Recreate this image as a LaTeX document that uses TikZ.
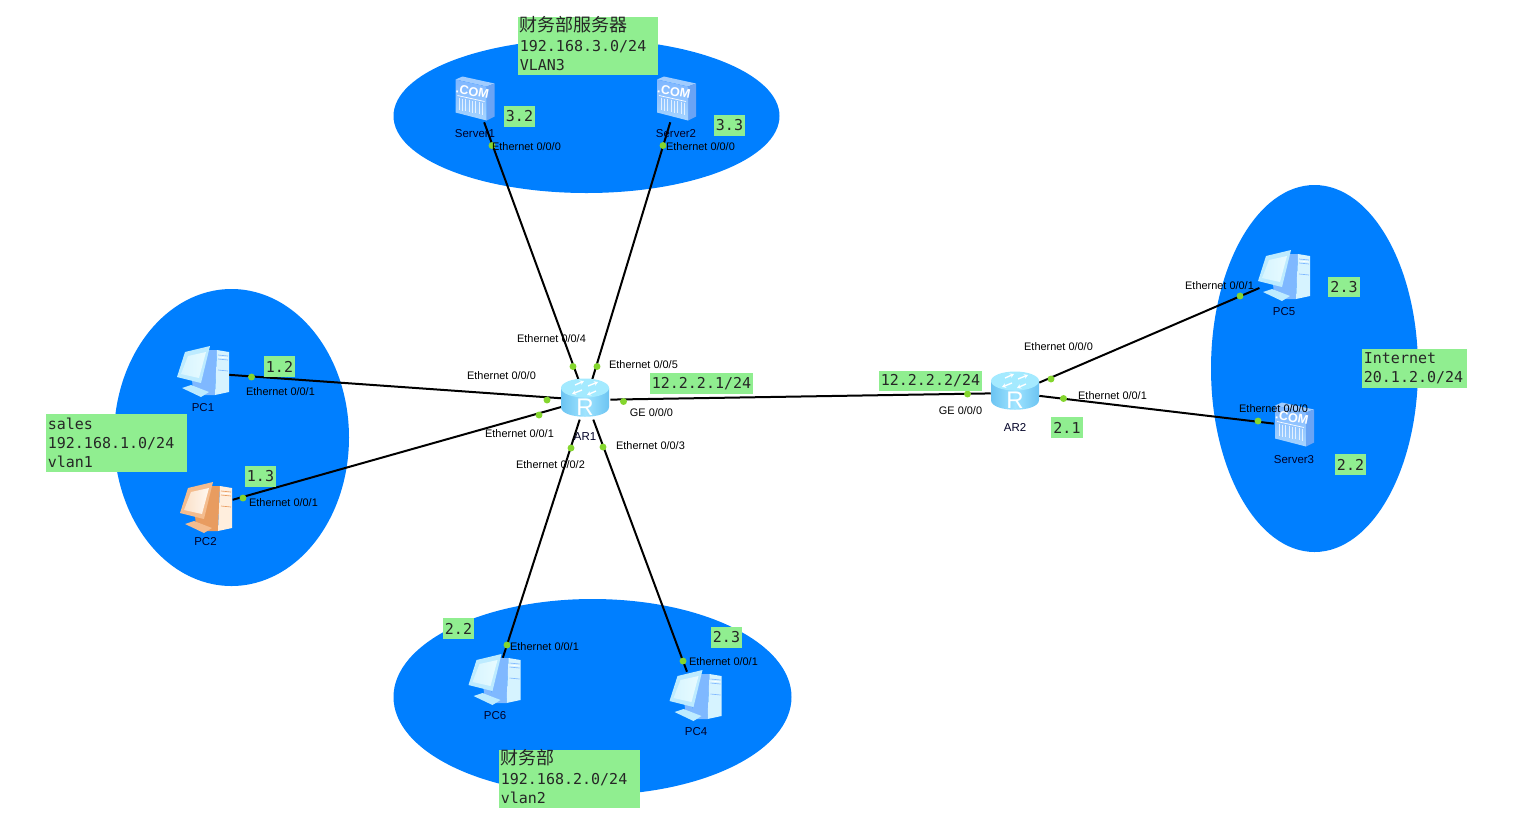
\documentclass[tikz,border=0pt]{standalone}
\usepackage{fontspec}
\setmainfont{Liberation Sans}
\newfontfamily\monofnt{DejaVu Sans Mono}
\newfontfamily\cjkfnt{Noto Sans CJK SC}
\usetikzlibrary{arrows.meta}
\definecolor{zoneblue}{HTML}{007FFF}
\definecolor{boxgreen}{HTML}{90EE90}
\definecolor{dotgreen}{HTML}{84D62E}
\definecolor{pcframe}{HTML}{BDEBFF}
\definecolor{pcside}{HTML}{7FB8FF}
\definecolor{pctower}{HTML}{D6F3FF}
\definecolor{pcscreen}{HTML}{E8FBFF}
\definecolor{orframe}{HTML}{F4BC8E}
\definecolor{orside}{HTML}{E89C60}
\definecolor{ortower}{HTML}{FFEEDD}
\definecolor{orscreen}{HTML}{FFF8F0}
\definecolor{srvfronta}{HTML}{7FB6FF}
\definecolor{srvfrontb}{HTML}{A6D4FF}
\definecolor{srvside}{HTML}{6AA4F5}
\definecolor{srvtop}{HTML}{A0CCFF}
\definecolor{rttop}{HTML}{A4EAFF}
\definecolor{rtedge}{HTML}{6CC4F2}
\definecolor{rtmid}{HTML}{A0E4FF}
\tikzset{
  zone/.style={fill=zoneblue,draw=none},
  link/.style={line width=1.5pt,black},
  iconbox/.style={draw=none,fill=none,inner sep=0pt,rectangle},
  portdot/.style={circle,fill=dotgreen,draw=none,inner sep=0pt,minimum size=5.2pt},
  portlabel/.style={font=\fontsize{8.2pt}{10pt}\selectfont,inner sep=0pt,text=black},
  devname/.style={font=\fontsize{8.6pt}{10pt}\selectfont,inner sep=0pt,text=black!85!blue},
  tag/.style={fill=boxgreen,inner sep=0pt,font=\monofnt\fontsize{11.25pt}{14.25pt}\selectfont,text=black!85},
  note/.style={tag,anchor=north west,align=left,inner xsep=1.2pt},
  pics/pcicon/.style n args={4}{code={
    % tower side
    \fill[#2] (5,-22) -- (14,-22) -- (12,23) -- (-6,23) -- (-2,8) -- cycle;
    % tower front
    \fill[#3] (14,-22) -- (26,-20) -- (26,20) -- (12,23) -- cycle;
    \draw[#2,line width=.5pt] (15,-17) -- (25,-16) (15,-13) -- (25,-12) (15,-2) -- (25,-1);
    \draw[white,line width=.5pt] (15,-15) -- (25,-14);
    % stand
    \fill[#2] (-11,8) -- (-3,8) -- (-3,19) -- (-10,18) -- cycle;
    \fill[#1] (-21,16) -- (-12,13) -- (6,20) -- (-2,25) -- cycle;
    % monitor
    \fill[#1] (-18,-20) -- (7,-26) -- (-2,11) -- (-26,5) -- cycle;
    \shade[left color=#4!60!#1,right color=#4] (-15,-16) -- (3,-20) -- (-4,6) -- (-22,2) -- cycle;
  }},
  pics/servericon/.style={code={
    \fill[srvtop] (-20,-20) -- (-13,-23) -- (19,-16) -- (11,-13) -- cycle;
    \fill[srvside] (11,-13) -- (19,-16) -- (19,17) -- (11,21) -- cycle;
    \shade[top color=srvfronta,bottom color=srvfrontb] (-20,-20) -- (11,-13) -- (11,21) -- (-20,13) -- cycle;
    \node[rotate=-11,inner sep=0pt,text=white,font=\bfseries\fontsize{9.5pt}{10pt}\selectfont] at (-3,-8) {.COM};
    \draw[white,line width=.5pt] (-18,-4) -- (9,2);
    \foreach \k in {-16,-13,-10,-6,-3,0,4,7} {
      \draw[white,opacity=.75,line width=.6pt] (\k,{-2+(\k+18)*0.22}) -- (\k,{10+(\k+18)*0.22});
    }
  }},
  pics/routericon/.style={code={
    \shade[left color=rtedge,right color=rtedge,middle color=rtmid]
      (-24,-12) -- (-24,7) .. controls (-24,20) and (24,20) .. (24,7) -- (24,-12) -- cycle;
    \fill[rttop] (0,-12) ellipse[x radius=24,y radius=9.5];
    \draw[white,line width=1pt,-{Stealth[length=3pt,width=3.5pt]}] (-3,-10) -- (-13,-6);
    \draw[white,line width=1pt,-{Stealth[length=3pt,width=3.5pt]}] (-10,-15) -- (-1,-19);
    \draw[white,line width=1pt,-{Stealth[length=3pt,width=3.5pt]}] (3,-14) -- (13,-18);
    \draw[white,line width=1pt,-{Stealth[length=3pt,width=3.5pt]}] (11,-9) -- (2,-5);
    \node[inner sep=0pt,text=white,font=\fontsize{18pt}{18pt}\selectfont] at (0,7) {R};
  }}
}
\begin{document}
\begin{tikzpicture}[x=0.75pt,y=-0.75pt]
\useasboundingbox (0,0) rectangle (1527,833);
\fill[white] (0,0) rectangle (1527,833);
% zones
\fill[zone] (586.5,116) ellipse[x radius=193,y radius=77];
\fill[zone] (592.5,697) ellipse[x radius=199,y radius=98];
\fill[zone] (231.5,437.5) ellipse[x radius=117.5,y radius=148.5];
\fill[zone] (1314.5,368.5) ellipse[x radius=103.5,y radius=183.5];
% device anchors
\node[iconbox,minimum width=36pt,minimum height=29pt] (ar1) at (586,400) {};
\node[iconbox,minimum width=36pt,minimum height=29pt] (ar2) at (1015,393) {};
\node[iconbox,minimum width=38pt,minimum height=36pt] (pc1) at (203,373) {};
\node[iconbox,minimum width=38pt,minimum height=36pt] (pc2) at (207,507) {};
\node[iconbox,minimum width=38pt,minimum height=36pt] (pc4) at (696,696) {};
\node[iconbox,minimum width=38pt,minimum height=36pt] (pc5) at (1285,277) {};
\node[iconbox,minimum width=38pt,minimum height=36pt] (pc6) at (495,682) {};
\node[iconbox,minimum width=30pt,minimum height=33pt] (srv1) at (476,100) {};
\node[iconbox,minimum width=30pt,minimum height=33pt] (srv2) at (677,100) {};
\node[iconbox,minimum width=30pt,minimum height=33pt] (srv3) at (1294,426) {};
% connectors
\draw[link] (srv1) -- (ar1);
\draw[link] (srv2) -- (ar1);
\draw[link] (pc1) -- (ar1);
\draw[link] (pc2) -- (ar1);
\draw[link] (pc6) -- (ar1);
\draw[link] (pc4) -- (ar1);
\draw[link] (ar1) -- (ar2);
\draw[link] (ar2) -- (pc5);
\draw[link] (ar2) -- (srv3);
% icons
\pic at (475.5,99.5) {servericon};
\pic at (677,99.5) {servericon};
\pic at (1295,425.5) {servericon};
\pic at (585,400) {routericon};
\pic at (1015,393) {routericon};
\pic at (203,372) {pcicon={pcframe}{pcside}{pctower}{pcscreen}};
\pic at (206,508) {pcicon={orframe}{orside}{ortower}{orscreen}};
\pic at (1284,276) {pcicon={pcframe}{pcside}{pctower}{pcscreen}};
\pic at (494.5,680) {pcicon={pcframe}{pcside}{pctower}{pcscreen}};
\pic at (695.5,696) {pcicon={pcframe}{pcside}{pctower}{pcscreen}};
% port dots
\foreach \nm/\px/\py in {d1/492/145.5,d2/663/145.5,d3/573/366.5,d4/597/366.5,d5/547/400,d6/539/415,d7/571/448,d8/603/447,d9/623.5/401.5,d10/251.5/377,d11/243/498,d12/507/645,d13/683/661,d14/967.5/394,d15/1051/379,d16/1063.5/398.5,d17/1240/296,d18/1258/421}
  \node[portdot] (\nm) at (\px,\py) {};
% port labels
\foreach \nm/\px/\py/\tx in {
  l1/526.5/146.8/Ethernet 0\slash 0\slash 0,
  l2/700.5/146.8/Ethernet 0\slash 0\slash 0,
  l3/551.5/338.8/Ethernet 0\slash 0\slash 4,
  l4/643.5/364.8/Ethernet 0\slash 0\slash 5,
  l5/501.5/375.8/Ethernet 0\slash 0\slash 0,
  l6/519.5/433.8/Ethernet 0\slash 0\slash 1,
  l7/651.5/412.8/GE 0\slash 0\slash 0,
  l8/650.5/445.8/Ethernet 0\slash 0\slash 3,
  l9/550.5/464.8/Ethernet 0\slash 0\slash 2,
  l10/280.5/391.8/Ethernet 0\slash 0\slash 1,
  l11/283.5/502.8/Ethernet 0\slash 0\slash 1,
  l12/544.5/646.8/Ethernet 0\slash 0\slash 1,
  l13/723.5/661.8/Ethernet 0\slash 0\slash 1,
  l14/1219.5/285.8/Ethernet 0\slash 0\slash 1,
  l15/1058.5/346.8/Ethernet 0\slash 0\slash 0,
  l16/1112.5/395.8/Ethernet 0\slash 0\slash 1,
  l17/960.5/410.8/GE 0\slash 0\slash 0,
  l18/1273.5/408.8/Ethernet 0\slash 0\slash 0}
  \node[portlabel] (\nm) at (\px,\py) {\tx};
% device names
\foreach \nm/\px/\py/\tx in {
  n1/475/133.8/Server1,n2/676/133.8/Server2,n3/203/407.8/PC1,n4/205.5/541.8/PC2,
  n5/495/715.8/PC6,n6/696/731.8/PC4,n7/585/436.8/AR1,n8/1015/427.8/AR2,
  n9/1284/311.8/PC5,n10/1294/459.8/Server3}
  \node[devname] (\nm) at (\px,\py) {\tx};
% address tags
\foreach \nm/\px/\py/\tagw/\tx in {
  t1/519.5/116.5/23.5pt/3.2,
  t2/729.5/125.5/23.5pt/3.3,
  t3/279.5/366.5/23.5pt/1.2,
  t4/260.5/476.5/23.5pt/1.3,
  t5/701.5/383.5/77pt/12.2.2.1\slash 24,
  t6/930.5/381/77pt/12.2.2.2\slash 24,
  t7/1067/427.5/24pt/2.1,
  t8/1344/287/24pt/2.3,
  t9/1350.5/464.5/23.5pt/2.2,
  t10/458.5/628.5/23.5pt/2.2,
  t11/726.5/637.5/23.5pt/2.3}
  \node[tag,minimum width=\tagw,minimum height=15.5pt] (\nm) at (\px,\py) {\tx};
% notes
\node[note,text width=103pt,minimum height=43.5pt] (nsales) at (46,414) {sales\\192.168.1.0/24\\vlan1};
\node[note,text width=102.5pt,minimum height=43.5pt] (nsrv) at (518,17) {\smash{\raisebox{1pt}{\cjkfnt\fontsize{13.5pt}{14.25pt}\selectfont 财务部服务器}}\vphantom{sales}\\192.168.3.0/24\\VLAN3};
\node[note,text width=103pt,minimum height=43.5pt] (nfin) at (499,750) {\smash{\raisebox{1pt}{\cjkfnt\fontsize{13.5pt}{14.25pt}\selectfont 财务部}}\vphantom{sales}\\192.168.2.0/24\\vlan2};
\node[note,text width=76pt,minimum height=29pt] (nnet) at (1362,349) {Internet\\20.1.2.0/24};
\end{tikzpicture}
\end{document}
